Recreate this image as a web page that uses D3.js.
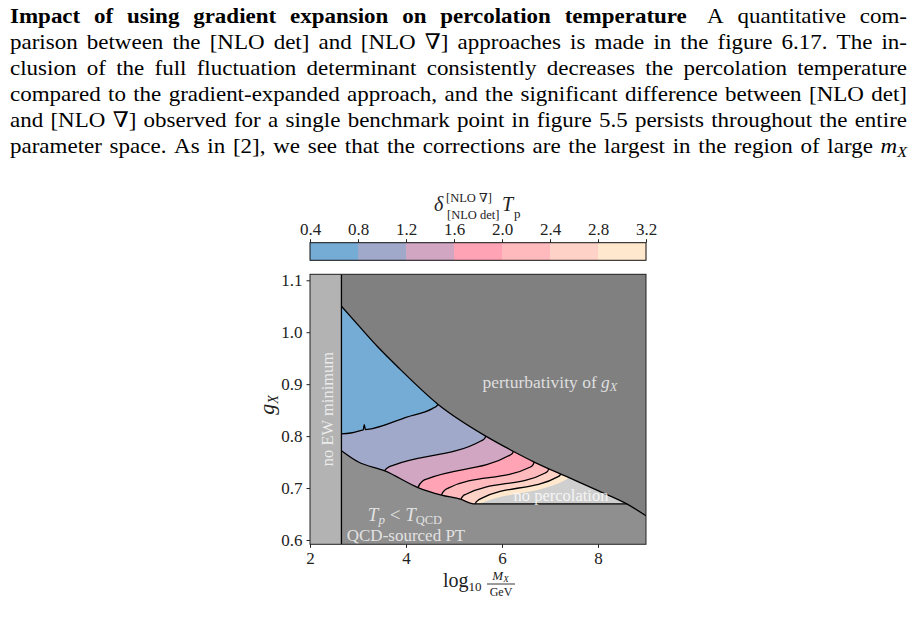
<!DOCTYPE html>
<html><head><meta charset="utf-8">
<script src="https://cdn.jsdelivr.net/npm/d3@7"></script>
<style>body{margin:0;background:#fff}svg{display:block}</style>
</head><body>
<svg id="c" width="919" height="625"></svg>
<script>
// ---------------- data ----------------
const paragraphLines = [
  [["b","Impact of using gradient expansion on percolation temperature"],["gap",""],["r","A quantitative com-"]],
  [["r","parison between the [NLO det] and [NLO ∇] approaches is made in the figure 6.17. The in-"]],
  [["r","clusion of the full fluctuation determinant consistently decreases the percolation temperature"]],
  [["r","compared to the gradient-expanded approach, and the significant difference between [NLO det]"]],
  [["r","and [NLO ∇] observed for a single benchmark point in figure 5.5 persists throughout the entire"]],
  [["r","parameter space. As in [2], we see that the corrections are the largest in the region of large"],["mx","m|X"]]
];
const xTicks = [2, 4, 6, 8];
const yTicks = [0.6, 0.7, 0.8, 0.9, 1.0, 1.1];
const cbLevels = [0.4, 0.8, 1.2, 1.6, 2.0, 2.4, 2.8, 3.2];
const bandColors = ["#74acd6", "#a1a9cb", "#d0a6c2", "#ffa3b5", "#ffbabe", "#ffd2c8", "#ffe8ce"];
const noPercColor = "#cfcfcf";
const ewEdge = 2.655;
const perturbativityBoundary = [[2.655,1.05],[3.0,1.014],[3.4,0.973],[3.875,0.929],[4.67,0.861],[5.68,0.799],[6.27,0.769],[6.65,0.751],[7.42,0.719],[8.0,0.695],[8.6,0.6695],[9.01,0.646]];
const qcdBoundary = [[2.655,0.772],[3.0,0.7506],[3.56,0.733],[4.25,0.701],[4.74,0.6865],[5.15,0.678],[5.40,0.6697],[8.6,0.6697]];
const contour08 = [[2.6,0.804],[2.85,0.806],[3.05,0.8105],[3.11,0.812],[3.13,0.822],[3.155,0.8125],[3.3,0.8145],[4.0,0.836],[4.55,0.853],[4.64,0.858],[4.72,0.868]];
const contour12 = [[3.545,0.724],[3.556,0.7333],[3.625,0.7397],[3.73,0.7436],[5.569,0.7911],[5.639,0.7955],[5.69,0.808]];
const contour16 = [[4.24,0.692],[4.25,0.701],[4.354,0.714],[4.458,0.718],[6.167,0.7635],[6.22,0.767],[6.26,0.78]];
const contour20 = [[4.73,0.679],[4.74,0.687],[4.81,0.696],[4.88,0.700],[6.58,0.740],[6.64,0.744],[6.70,0.758]];
const contour24 = [[5.13,0.670],[5.14,0.677],[5.19,0.685],[5.25,0.688],[6.90,0.729],[6.95,0.732],[7.00,0.745]];
const contour28 = [[5.43,0.660],[5.44,0.6697],[5.51,0.677],[5.57,0.680],[7.17,0.722],[7.21,0.725],[7.25,0.735]];
const noPercolationEdge = [[5.53,0.660],[5.54,0.6697],[5.60,0.672],[7.35,0.7167],[7.42,0.728]];
const contours = [contour08, contour12, contour16, contour20, contour24, contour28];

// ---------------- setup ----------------
const FONT = "'Liberation Serif', 'DejaVu Serif', serif";
const svg = d3.select("#c").style("font-family", FONT);
const x = d3.scaleLinear().domain([2, 9]).range([310, 646]);
const y = d3.scaleLinear().domain([0.5917, 1.1115]).range([544.3, 274.3]);
const X0 = x.range()[0], X1 = x.range()[1], Y0 = y.range()[1], Y1 = y.range()[0];
const line = d3.line().x(d => x(d[0])).y(d => y(d[1])).curve(d3.curveMonotoneX);

// ---------------- paragraph ----------------
const sx = 1.07;
const pg = svg.append("g").attr("class", "paragraph").attr("transform", `scale(${sx},1)`);
const paraLeft = 10 / sx, paraRight = 907 / sx, paraBase0 = 23, paraLead = 26.1, paraSize = 21.5;
paragraphLines.forEach((runs, li) => {
  const yb = paraBase0 + li * paraLead;
  const words = [];
  let gapNext = false;
  runs.forEach(([st, txt]) => {
    if (st === "gap") { gapNext = true; return; }
    if (st === "mx") {
      const [a, b] = txt.split("|");
      const t = pg.append("text").attr("y", yb).attr("font-size", paraSize);
      t.append("tspan").attr("font-style", "italic").text(a);
      t.append("tspan").attr("font-style", "italic").attr("font-size", 15).attr("dy", 4).text(b);
      words.push({node: t, extra: 0});
      return;
    }
    txt.split(" ").forEach(w => {
      const t = pg.append("text").attr("y", yb).attr("font-size", paraSize)
        .attr("font-weight", st === "b" ? "bold" : "normal").text(w);
      words.push({node: t, extra: gapNext ? 6 : 0});
      gapNext = false;
    });
  });
  const widths = words.map(w => w.node.node().getComputedTextLength());
  const extraSum = d3.sum(words, w => w.extra);
  const gap = (paraRight - paraLeft - d3.sum(widths) - extraSum) / (words.length - 1);
  let cx = paraLeft;
  words.forEach((w, i) => {
    cx += w.extra;
    w.node.attr("x", cx);
    cx += widths[i] + gap;
  });
});

// ---------------- rich text helper ----------------
function rich(g, px, py, parts, opts = {}) {
  const t = g.append("text").attr("x", px).attr("y", py)
    .attr("font-size", opts.size || 16).attr("text-anchor", opts.anchor || "middle")
    .attr("fill", opts.fill || "#222");
  if (opts.opacity) t.attr("fill-opacity", opts.opacity);
  if (opts.transform) t.attr("transform", opts.transform);
  let shift = 0;
  parts.forEach(p => {
    const s = t.append("tspan").text(p.t);
    if (p.i) s.attr("font-style", "italic");
    if (p.size) s.attr("font-size", p.size);
    const target = p.dy || 0;
    if (target !== shift) { s.attr("dy", target - shift); shift = target; }
  });
  return t;
}

// ---------------- colorbar ----------------
const cbX = d3.scaleLinear().domain([0.4, 3.2]).range([310, 646]);
const cbTop = 242.7, cbBot = 260.3;
const cb = svg.append("g");
cb.selectAll("rect.band").data(d3.range(bandColors.length)).join("rect")
  .attr("x", i => cbX(cbLevels[i])).attr("width", i => cbX(cbLevels[i + 1]) - cbX(cbLevels[i]) + 0.5)
  .attr("y", cbTop).attr("height", cbBot - cbTop).attr("fill", i => bandColors[i]);
cb.append("rect").attr("x", cbX(0.4)).attr("y", cbTop).attr("width", cbX(3.2) - cbX(0.4))
  .attr("height", cbBot - cbTop).attr("fill", "none").attr("stroke", "#111").attr("stroke-width", 1);
const cbAxis = cb.append("g").attr("transform", `translate(0,${cbTop})`)
  .call(d3.axisTop(cbX).tickValues(cbLevels).tickFormat(d3.format(".1f")).tickSize(3.5).tickPadding(4));
cbAxis.select(".domain").remove();
cbAxis.selectAll("text").attr("font-size", 17).attr("font-family", FONT).attr("fill", "#222");
cbAxis.selectAll("line").attr("stroke", "#222");
// colorbar label
svg.append("text").attr("x", 434).attr("y", 211).attr("font-size", 20).attr("font-style", "italic").attr("fill", "#222").text("δ");
svg.append("text").attr("x", 446).attr("y", 202).attr("font-size", 12.5).attr("fill", "#222").text("[NLO ∇]");
svg.append("text").attr("x", 447).attr("y", 219).attr("font-size", 12.5).attr("fill", "#222").text("[NLO det]");
svg.append("text").attr("x", 502).attr("y", 211).attr("font-size", 20).attr("font-style", "italic").attr("fill", "#222").text("T");
svg.append("text").attr("x", 514).attr("y", 218).attr("font-size", 13).attr("fill", "#222").text("p");

// ---------------- plot ----------------
const defs = svg.append("defs");
defs.append("clipPath").attr("id", "plotClip").append("rect")
  .attr("x", X0).attr("y", Y0).attr("width", X1 - X0).attr("height", Y1 - Y0);
defs.append("clipPath").attr("id", "belowPert").append("path")
  .attr("d", line(perturbativityBoundary) + `L${x(9.01)},${y(0.5)}L${x(ewEdge)},${y(0.5)}Z`);
defs.append("clipPath").attr("id", "aboveQCD").append("path")
  .attr("d", line(qcdBoundary) + `L${x(9.5)},${y(0.6697)}L${x(9.5)},${y(1.3)}L${x(ewEdge)},${y(1.3)}Z`);

const plot = svg.append("g").attr("clip-path", "url(#plotClip)");
plot.append("rect").attr("x", X0).attr("y", Y0).attr("width", X1 - X0).attr("height", Y1 - Y0).attr("fill", "#8f8f8f");
plot.append("path").attr("d", line(perturbativityBoundary) + `L${x(9.01)},${y(1.2)}L${x(ewEdge)},${y(1.2)}Z`)
  .attr("fill", "#808080");
plot.append("rect").attr("x", x(2)).attr("y", Y0).attr("width", x(ewEdge) - x(2)).attr("height", Y1 - Y0).attr("fill", "#b3b3b3");

const allowed = plot.append("g").attr("clip-path", "url(#belowPert)")
  .append("g").attr("clip-path", "url(#aboveQCD)");
allowed.append("rect").attr("x", X0).attr("y", Y0).attr("width", X1 - X0).attr("height", Y1 - Y0).attr("fill", bandColors[0]);
const fillBelow = c => line(c) + `L${x(c[c.length - 1][0])},${y(1.3)}L${x(10)},${y(1.3)}L${x(10)},${y(0.5)}L${x(c[0][0])},${y(0.5)}Z`;
contours.forEach((c, i) => {
  allowed.append("path").attr("d", fillBelow(c)).attr("fill", bandColors[i + 1]);
});
allowed.append("path").attr("d", fillBelow(noPercolationEdge)).attr("fill", noPercColor);
contours.forEach(c => {
  allowed.append("path").attr("d", line(c)).attr("fill", "none").attr("stroke", "#000").attr("stroke-width", 1.3);
});

plot.append("line").attr("x1", x(ewEdge)).attr("x2", x(ewEdge)).attr("y1", Y0).attr("y2", Y1)
  .attr("stroke", "#000").attr("stroke-width", 1.3);
plot.append("path").attr("d", line(perturbativityBoundary)).attr("fill", "none").attr("stroke", "#000").attr("stroke-width", 1.3);
plot.append("path").attr("d", line(qcdBoundary)).attr("fill", "none").attr("stroke", "#000").attr("stroke-width", 1.3);

// region labels
const lab = svg.append("g");
rich(lab, 0, 0, [{t: "no EW minimum"}], {size: 16.5, fill: "#fff", opacity: 0.75, transform: "translate(333,409) rotate(-90)"});
rich(lab, 550, 388, [{t: "perturbativity of "}, {t: "g", i: 1}, {t: "X", i: 1, size: 12.5, dy: 3}], {size: 17.5, fill: "#fff", opacity: 0.75});
rich(lab, 561, 501, [{t: "no percolation"}], {size: 16.5, fill: "#fff", opacity: 0.8});
rich(lab, 405, 521, [{t: "T", i: 1}, {t: "p", i: 1, size: 13, dy: 3}, {t: " < "}, {t: "T", i: 1}, {t: "QCD", size: 12.5, dy: 3}], {size: 19, fill: "#fff", opacity: 0.75});
rich(lab, 406, 540.5, [{t: "QCD-sourced PT"}], {size: 17, fill: "#fff", opacity: 0.75});

// frame
svg.append("rect").attr("x", X0).attr("y", Y0).attr("width", X1 - X0).attr("height", Y1 - Y0)
  .attr("fill", "none").attr("stroke", "#222").attr("stroke-width", 1);

// axes
const yAx = svg.append("g").attr("transform", `translate(${X0},0)`)
  .call(d3.axisLeft(y).tickValues(yTicks).tickFormat(d3.format(".1f")).tickSize(3.5).tickPadding(4));
const xAx = svg.append("g").attr("transform", `translate(0,${Y1})`)
  .call(d3.axisBottom(x).tickValues(xTicks).tickFormat(d3.format("d")).tickSize(3.5).tickPadding(4));
[yAx, xAx].forEach(a => {
  a.select(".domain").remove();
  a.selectAll("text").attr("font-size", 17).attr("font-family", FONT).attr("fill", "#222");
  a.selectAll("line").attr("stroke", "#222");
});

// axis labels
rich(svg, 0, 0, [{t: "g", i: 1}, {t: "X", i: 1, size: 14, dy: 4}], {size: 22, transform: "translate(274,405) rotate(-90)"});
rich(svg, 443, 587, [{t: "log"}, {t: "10", size: 13, dy: 4}], {size: 20, anchor: "start"});
rich(svg, 500.5, 579.5, [{t: "M", i: 1}, {t: "X", i: 1, size: 9, dy: 2.5}], {size: 13});
svg.append("line").attr("x1", 487).attr("x2", 515).attr("y1", 584).attr("y2", 584).attr("stroke", "#222").attr("stroke-width", 0.9);
rich(svg, 501, 595.5, [{t: "GeV"}], {size: 12});
</script>
</body></html>
